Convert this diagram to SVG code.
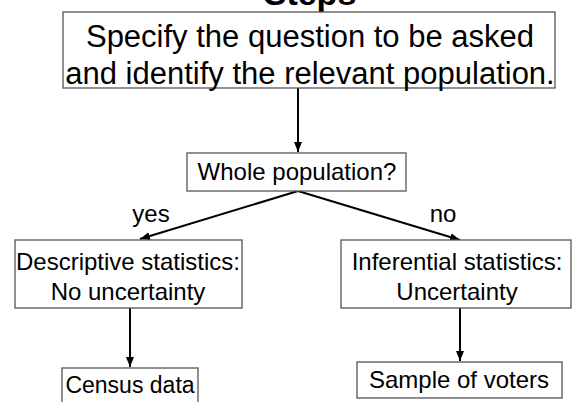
<svg xmlns="http://www.w3.org/2000/svg" width="574" height="402" viewBox="0 0 574 402">
<style>
.box{fill:#fff;stroke:#555;stroke-width:1.3}
.t{font-family:"Liberation Sans",Arial,sans-serif;fill:#000;text-anchor:middle}
.big{font-size:31px}
.med{font-size:24px}
.ln{stroke:#000;stroke-width:2;fill:none}
</style>
<defs>
<marker id="ah" viewBox="0 0 10 10" refX="10" refY="5" markerWidth="5" markerHeight="5" orient="auto" markerUnits="strokeWidth">
<path d="M0,1 L10,5 L0,9 z" fill="#000"/>
</marker>
</defs>
<rect width="574" height="402" fill="#fff"/>
<text class="t" x="310" y="5" style="font-size:34px;font-weight:bold">Steps</text>
<g id="connectors">
<line class="ln" x1="298" y1="88" x2="298" y2="152" marker-end="url(#ah)"/>
<line class="ln" x1="298" y1="191" x2="140" y2="239" marker-end="url(#ah)"/>
<line class="ln" x1="298" y1="191" x2="460" y2="240" marker-end="url(#ah)"/>
<line class="ln" x1="130" y1="308" x2="130" y2="367" marker-end="url(#ah)"/>
<line class="ln" x1="460" y1="308" x2="460" y2="361" marker-end="url(#ah)"/>
</g>
<g id="n-specify">
<rect class="box" x="63" y="12" width="492" height="76"/>
<text class="t big" x="310" y="47">Specify the question to be asked</text>
<text class="t big" x="310" y="84">and identify the relevant population.</text>
</g>
<g id="n-whole">
<rect class="box" x="187" y="153" width="219" height="38"/>
<text class="t med" x="297" y="180">Whole population?</text>
</g>
<text class="t med" x="151" y="222">yes</text>
<text class="t med" x="443" y="222">no</text>
<g id="n-descriptive">
<rect class="box" x="15" y="240" width="227" height="68"/>
<text class="t med" x="128" y="270">Descriptive statistics:</text>
<text class="t med" x="128" y="300">No uncertainty</text>
</g>
<g id="n-inferential">
<rect class="box" x="341" y="240" width="230" height="68"/>
<text class="t med" x="457" y="270">Inferential statistics:</text>
<text class="t med" x="457" y="300">Uncertainty</text>
</g>
<g id="n-census">
<rect class="box" x="62" y="368" width="136" height="40"/>
<text class="t" x="130" y="393" style="font-size:23px">Census data</text>
</g>
<g id="n-sample">
<rect class="box" x="357" y="362" width="205" height="36"/>
<text class="t med" x="459" y="388">Sample of voters</text>
</g>
</svg>
